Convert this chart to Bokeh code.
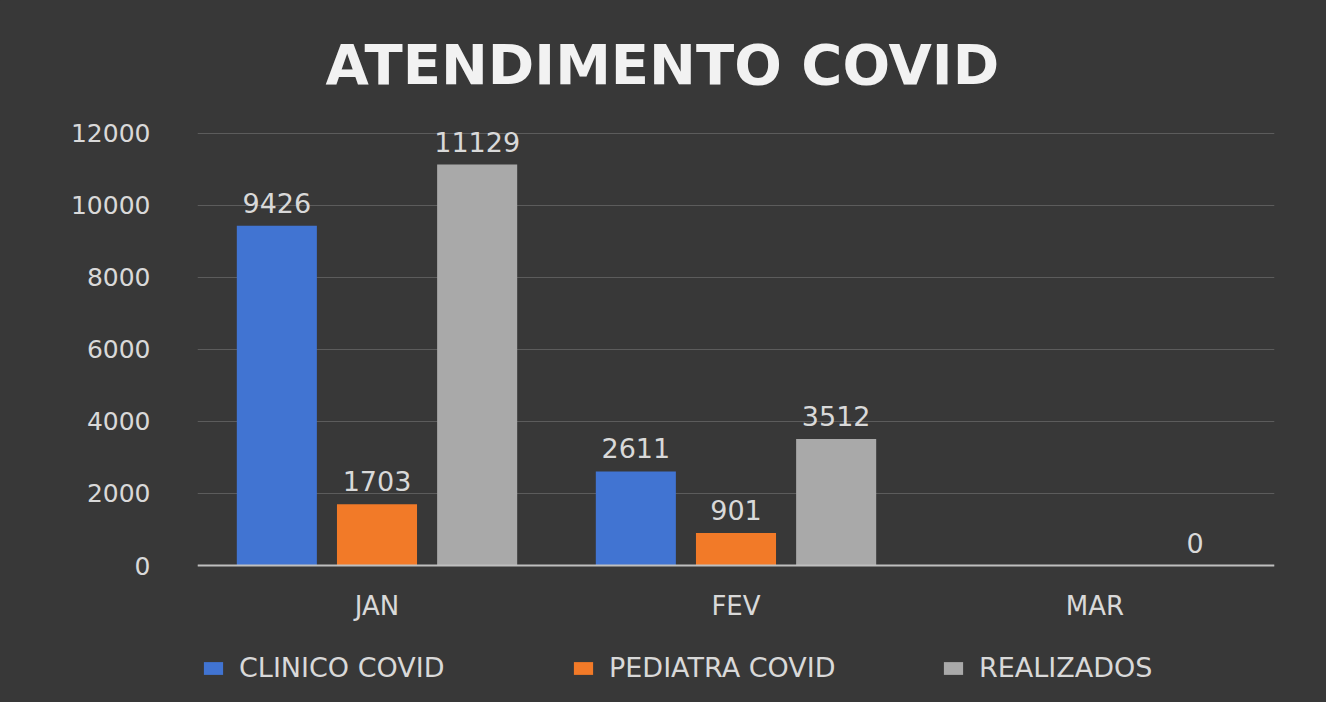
import math
from bokeh.plotting import figure
from bokeh.models import ColumnDataSource, Range1d, FixedTicker, Legend, LegendItem, CategoricalAxis
from bokeh.transform import dodge
from bokeh.core.properties import value
from bokeh.embed import file_html
from bokeh.resources import INLINE

# ---- data ----
months = ["JAN", "FEV", "MAR"]
series_names = ["CLINICO COVID", "PEDIATRA COVID", "REALIZADOS"]
clinico = [9426, 2611, math.nan]
pediatra = [1703, 901, math.nan]
realizados = [11129, 3512, 0]
y_ticks = [0, 2000, 4000, 6000, 8000, 10000, 12000]

# ---- style ----
colors = ["#4174d2", "#f27a28", "#a9a9a9"]
offsets = [-0.279, 0.0, 0.279]
bar_width = 0.223
bg = "#383838"
text_col = "#d9d9d9"
font = value("DejaVu Sans")

def lbls(vals):
    return ["" if (isinstance(v, float) and math.isnan(v)) else str(v) for v in vals]

src = ColumnDataSource(dict(
    month=months,
    clinico=clinico, pediatra=pediatra, realizados=realizados,
    clinico_l=lbls(clinico), pediatra_l=lbls(pediatra), realizados_l=lbls(realizados),
))

# frame spans below zero so the legend fits inside it; 0 sits where the reference baseline is
p = figure(x_range=months, y_range=Range1d(-3802, 12600),
           width=1326, height=702, x_axis_location=None,
           min_border_left=197, min_border_right=52, min_border_top=111, min_border_bottom=0,
           output_backend="svg", toolbar_location=None,
           title="ATENDIMENTO COVID")

p.styles = {"background-color": bg}
p.background_fill_color = bg
p.border_fill_color = bg
p.outline_line_color = None

p.title.align = "left"
p.title.text_font = "DejaVu Sans"
p.title.text_font_style = "bold"
p.title.text_font_size = "56px"
p.title.text_color = "#f2f2f2"
p.title.offset = 128
p.title.standoff = 29

keys = ["clinico", "pediatra", "realizados"]
renderers = []
for k, off, c in zip(keys, offsets, colors):
    r = p.vbar(x=dodge("month", off, range=p.x_range), top=k, width=bar_width,
               source=src, fill_color=c, line_color=None)
    renderers.append(r)
    p.text(x=dodge("month", off, range=p.x_range), y=k, text=k + "_l", source=src,
           text_align="center", text_baseline="alphabetic", y_offset=-23,
           text_font=font, text_font_size="27px", text_color=text_col)

# grid
p.xgrid.grid_line_color = None
p.ygrid.ticker = FixedTicker(ticks=y_ticks)
p.ygrid.grid_line_color = "#5c5c5c"
p.ygrid.grid_line_width = 1

# y axis
p.yaxis.ticker = FixedTicker(ticks=y_ticks)
p.yaxis.axis_line_color = None
p.yaxis.major_tick_line_color = None
p.yaxis.minor_tick_line_color = None
p.yaxis.major_tick_out = 0
p.yaxis.major_label_standoff = 47
p.yaxis.major_label_text_font = "DejaVu Sans"
p.yaxis.major_label_text_font_size = "25px"
p.yaxis.major_label_text_color = text_col

# x axis fixed at y = 0
xaxis = CategoricalAxis(fixed_location=0)
xaxis.axis_line_color = "#bfbfbf"
xaxis.axis_line_width = 2
xaxis.major_tick_line_color = None
xaxis.major_tick_out = 0
xaxis.major_label_standoff = 25
xaxis.major_label_text_font = "DejaVu Sans"
xaxis.major_label_text_font_size = "26px"
xaxis.major_label_text_color = text_col
p.add_layout(xaxis, "below")

legend = Legend(items=[LegendItem(label=n, renderers=[r]) for n, r in zip(series_names, renderers)],
                orientation="horizontal", location=(4, 19),
                background_fill_alpha=0, border_line_alpha=0,
                label_text_font="DejaVu Sans", label_text_font_size="27px",
                label_text_color=text_col, glyph_width=24, glyph_height=16,
                label_width=318, spacing=14, label_standoff=14, margin=0, padding=0)
p.add_layout(legend, "center")

open("out.html", "w").write(file_html(p, INLINE))
